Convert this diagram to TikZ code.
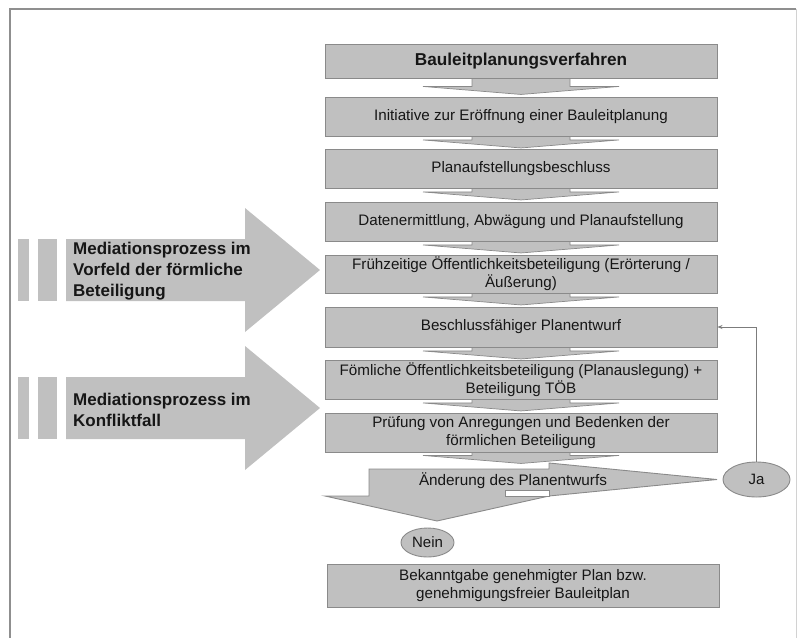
\documentclass[tikz,border=0pt]{standalone}
\usepackage{fontspec}
\setmainfont{Liberation Sans}
\usetikzlibrary{calc,shapes.geometric,arrows.meta,backgrounds}

\definecolor{boxfill}{HTML}{C0C0C0}
\definecolor{boxline}{HTML}{8A8A8A}
\definecolor{framegray}{HTML}{8F8F8F}
\definecolor{inkgray}{HTML}{161616}

% down arrow linking a step box to the one below it:
% #1 = upper box, #2 = head start below its bottom edge, #3 = tip below its bottom edge
\newcommand\flowlink[3]{%
  \path[linkarrow]
    ($(#1.south)+(-49,-4)$) -- ($(#1.south)+(-49,#2)$) -- ($(#1.south)+(-98,#2)$)
    -- ($(#1.south)+(0,#3)$) -- ($(#1.south)+(98,#2)$) -- ($(#1.south)+(49,#2)$)
    -- ($(#1.south)+(49,-4)$);}

\begin{document}
\begin{tikzpicture}[x=1pt,y=-1pt,
  stepbox/.style={draw=boxline, fill=boxfill, line width=0.9pt, minimum width=392pt,
    inner sep=0pt, align=center, text=inkgray, font=\fontsize{15.2}{18}\selectfont},
  linkarrow/.style={fill=boxfill, draw=boxline, line width=0.7pt, line join=miter},
  bigarrow/.style={fill=boxfill, draw=none},
  medtext/.style={anchor=west, align=left, inner sep=0pt, text=inkgray,
    font=\bfseries\fontsize{17}{21}\selectfont},
  answer/.style={ellipse, draw=boxline, fill=boxfill, line width=0.9pt, inner sep=0pt,
    text=inkgray, font=\fontsize{15}{16}\selectfont},
  feedback/.style={draw=boxline!90!black, line width=0.8pt, -{Stealth[length=5pt,width=4pt]}}]

\useasboundingbox (0,0) rectangle (797,637);

% outer frame
\draw[framegray, line width=1.5pt] (10,640) -- (10,9) -- (796,9);
\draw[framegray!40, line width=1pt] (796,9) -- (796,640);

% main process chain
\node[stepbox, minimum height=34pt, font=\bfseries\fontsize{17.2}{18}\selectfont] (b1) at (521,61) {Bauleitplanungsverfahren};
\node[stepbox, minimum height=39pt] (b2) at (521,116.5) {Initiative zur Eröffnung einer Bauleitplanung};
\node[stepbox, minimum height=39pt] (b3) at (521,168.5) {Planaufstellungsbeschluss};
\node[stepbox, minimum height=39pt] (b4) at (521,221.5) {Datenermittlung, Abwägung und Planaufstellung};
\node[stepbox, minimum height=38pt] (b5) at (521,274) {Frühzeitige Öffentlichkeitsbeteiligung (Erörterung /\\Äußerung)};
\node[stepbox, minimum height=40pt] (b6) at (521,327) {Beschlussfähiger Planentwurf};
\node[stepbox, minimum height=39pt] (b7) at (521,379.5) {Fömliche Öffentlichkeitsbeteiligung (Planauslegung) +\\Beteiligung TÖB};
\node[stepbox, minimum height=39pt] (b8) at (521,432.5) {Prüfung von Anregungen und Bedenken der\\förmlichen Beteiligung};
\node[stepbox, minimum height=43pt] (b9) at (523,585.5) {Bekanntgabe genehmigter Plan bzw.\\genehmigungsfreier Bauleitplan};

% links between the steps, behind the boxes
\begin{scope}[on background layer]
  \flowlink{b1}{8}{16}
  \flowlink{b2}{3.5}{11.5}
  \flowlink{b3}{3.5}{11.5}
  \flowlink{b4}{3.5}{11.5}
  \flowlink{b5}{3.5}{11.5}
  \flowlink{b6}{3.5}{11.5}
  \flowlink{b7}{3.5}{11.5}
  \flowlink{b8}{3}{11}
\end{scope}

% decision arrow: right branch (Ja) and down branch (Nein)
\path[linkarrow, line width=0.9pt]
  (369,469) -- (549,469) -- (549,463) -- (717,479.5) -- (549,496)
  -- (437,521) -- (325,496) -- (369,496) -- cycle;
\path[fill=white, draw=boxline, line width=0.9pt] (505,490) rectangle (549,496);
\node[text=inkgray, font=\fontsize{15.3}{16}\selectfont, inner sep=0pt] (aend) at (513,481) {Änderung des Planentwurfs};

\node[answer, minimum width=67pt, minimum height=35pt] (ja) at (756.5,479.5) {Ja};
\node[answer, minimum width=53pt, minimum height=29pt] (nein) at (427.5,542.5) {Nein};

\draw[feedback] (ja.north) |- (b6.east);

% mediation arrows on the left
\fill[boxfill] (18,239) rectangle (29,301);
\fill[boxfill] (38,239) rectangle (57,301);
\path[bigarrow] (66,239) -- (245,239) -- (245,208) -- (320,270) -- (245,332) -- (245,301) -- (66,301) -- cycle;
\node[medtext] (m1) at (73,271) {Mediationsprozess im\\Vorfeld der förmliche\\Beteiligung};

\fill[boxfill] (18,377) rectangle (29,439);
\fill[boxfill] (38,377) rectangle (57,439);
\path[bigarrow] (66,377) -- (245,377) -- (245,346) -- (320,408) -- (245,470) -- (245,439) -- (66,439) -- cycle;
\node[medtext] (m2) at (73,410) {Mediationsprozess im\\Konfliktfall};

\end{tikzpicture}
\end{document}
